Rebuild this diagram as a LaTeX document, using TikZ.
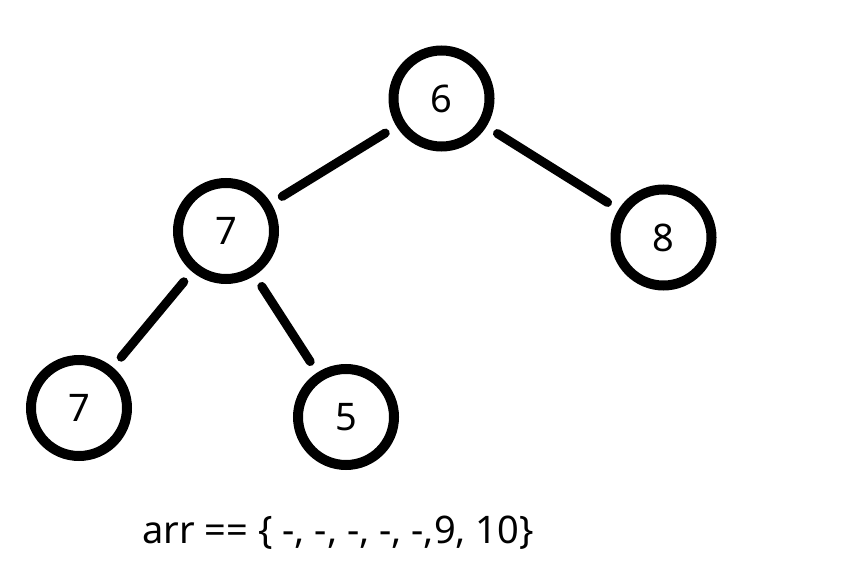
\documentclass[tikz,border=0pt]{standalone}
\usepackage{fontspec}
\setmainfont{Noto Sans}
\usetikzlibrary{positioning}
\tikzset{
  treenode/.style={circle, draw=black, line width=10pt, minimum size=96pt, inner sep=0pt, font=\fontsize{38}{44}\selectfont},
  treeedge/.style={line width=9pt, line cap=round, shorten <=13pt, shorten >=13pt}
}
\begin{document}
\begin{tikzpicture}[x=1pt,y=-1pt]
\useasboundingbox (0,0) rectangle (845,561);
\node[treenode] (root) at (441.5,98.5) {6};
\node[treenode] (left) at (226,231) {7};
\node[treenode] (right) at (663.5,237.5) {8};
\node[treenode] (leftleft) at (79,408) {7};
\node[treenode] (leftright) at (346,417) {5};
\draw[treeedge] (root) -- (left);
\draw[treeedge] (root) -- (right);
\draw[treeedge] (left) -- (leftleft);
\draw[treeedge] (left) -- (leftright);
\node[font=\fontsize{38}{46}\selectfont] (arr) at (338,533) {arr == \{ -, -, -, -, -,9, 10\}};
\end{tikzpicture}
\end{document}
